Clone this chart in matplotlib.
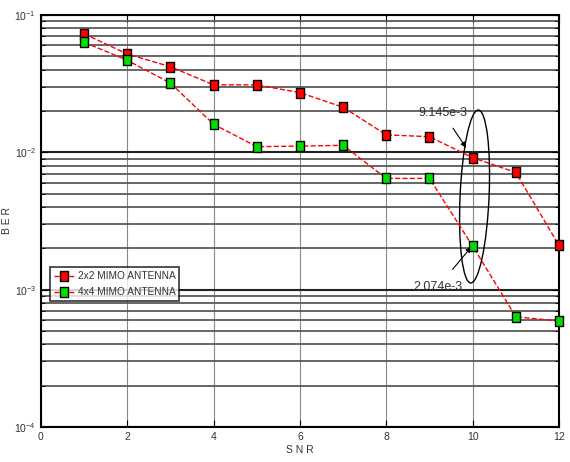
import matplotlib
matplotlib.use("Agg")
import matplotlib.pyplot as plt
from matplotlib.patches import Ellipse
from matplotlib.ticker import LogLocator, NullFormatter, FixedLocator

plt.rcParams['font.family'] = ['Liberation Sans', 'DejaVu Sans']

snr = [1, 2, 3, 4, 5, 6, 7, 8, 9, 10, 11, 12]
ber_2x2 = [0.073, 0.052, 0.042, 0.031, 0.031, 0.0272, 0.0213, 0.0134, 0.0130, 9.145e-3, 0.00714, 0.0021]
ber_4x4 = [0.0633, 0.0468, 0.0319, 0.0160, 0.0110, 0.0111, 0.01125, 0.00646, 0.00646, 2.074e-3, 0.000635, 0.00059]
labels = ['2x2 MIMO ANTENNA', '4x4 MIMO ANTENNA']
xticks = [0, 2, 4, 6, 8, 10, 12]

rect = [(-0.78, -1), (0.78, -1), (0.78, 1), (-0.78, 1), (-0.78, -1)]

fig = plt.figure(figsize=(5.7, 4.62), dpi=100)
ax = fig.add_axes([0.0719, 0.0758, 0.9088, 0.8917])

ax.set_yscale('log')
ax.set_xlim(0, 12)
ax.set_ylim(1e-4, 1e-1)

ax.yaxis.set_major_locator(LogLocator(base=10, numticks=10))
ax.yaxis.set_minor_locator(LogLocator(base=10, subs=range(2, 10), numticks=20))
ax.yaxis.set_minor_formatter(NullFormatter())
ax.xaxis.set_major_locator(FixedLocator(xticks))

ax.grid(True, which='minor', axis='y', color='#5a5a5a', linewidth=1.3)
ax.grid(True, which='major', axis='y', color='#222222', linewidth=1.5)
ax.grid(True, which='major', axis='x', color='#888888', linewidth=0.8)
ax.set_axisbelow(True)

ax.tick_params(which='both', direction='in', top=True, right=True, labelsize=7.5, colors='black', labelcolor='#333333')
ax.tick_params(which='major', length=5)
ax.tick_params(which='minor', length=3)
for s in ax.spines.values():
    s.set_linewidth(1.5)

ax.plot(snr, ber_2x2, linestyle='--', color='red', linewidth=1.0, marker=rect, clip_on=False, zorder=5,
        markersize=7, markerfacecolor='red', markeredgecolor='black', markeredgewidth=1.0, label=labels[0])
ax.plot(snr, ber_4x4, linestyle='--', color='red', linewidth=1.0, marker=rect, clip_on=False, zorder=5,
        markersize=7, markerfacecolor='#00dd00', markeredgecolor='black', markeredgewidth=1.0, label=labels[1])

ax.set_xlabel('S N R', fontsize=7.5, color='#333333', labelpad=2)
ax.set_ylabel('B E R', fontsize=7.5, color='#333333', labelpad=2)

leg = ax.legend(loc='upper left', bbox_to_anchor=(0.017, 0.388), fontsize=7.3, frameon=True,
                fancybox=False, edgecolor='black', handlelength=2.0, borderpad=0.4,
                labelspacing=0.6, handletextpad=0.35, borderaxespad=0)
leg.get_frame().set_linewidth(1.2)
leg.set_zorder(6)
for t in leg.get_texts():
    t.set_color('#333333')

ell = Ellipse((0.837, 0.5595), width=0.056, height=0.42, angle=-2, transform=ax.transAxes,
              fill=False, edgecolor='black', linewidth=1.0)
ax.add_patch(ell)

ax.annotate('9.145e-3', xy=(9.85, 0.0108), xytext=(9.3, 0.0195), fontsize=9, color='#333333',
            ha='center', va='center',
            arrowprops=dict(arrowstyle='-|>', color='black', lw=0.8, shrinkA=6, shrinkB=0, mutation_scale=8))
ax.annotate('2.074e-3', xy=(9.97, 0.00205), xytext=(9.2, 0.00105), fontsize=9, color='#333333',
            ha='center', va='center',
            arrowprops=dict(arrowstyle='-|>', color='black', lw=0.8, shrinkA=8, shrinkB=0, mutation_scale=8))

fig.savefig('out.png', dpi=100)
